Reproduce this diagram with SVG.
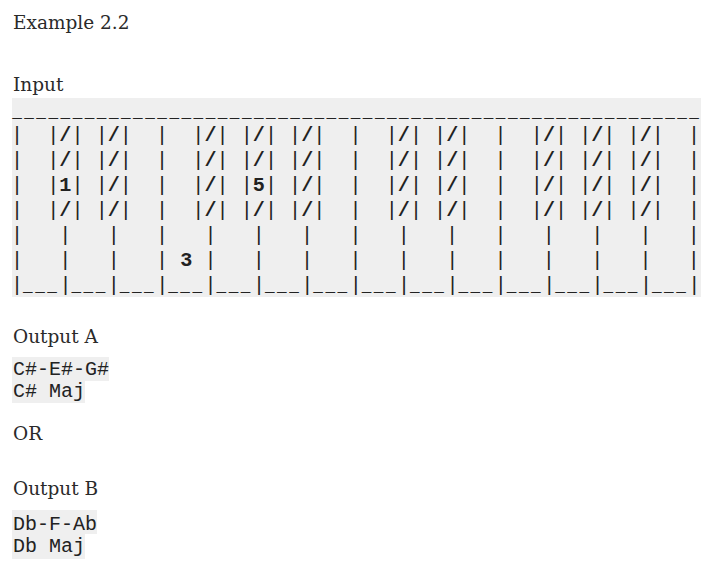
<svg xmlns="http://www.w3.org/2000/svg" width="717" height="571" viewBox="0 0 717 571">
<style>
.h{font-family:"DejaVu Serif","Liberation Serif",serif;font-size:18.5px;fill:#2a2a2a}
.m{font-family:"Liberation Mono","DejaVu Sans Mono",monospace;font-size:20.15px;fill:#222;white-space:pre}
.c{font-family:"Liberation Mono","DejaVu Sans Mono",monospace;font-size:20px;fill:#222;white-space:pre}
.u{font-size:16px;letter-spacing:2.49px;font-weight:bold}
.b{font-weight:bold}
.bg{fill:#efefef}
</style>
<rect width="717" height="571" fill="#ffffff"/>
<g id="headings">
<text class="h" x="13" y="28.5">Example 2.2</text>
<text class="h" x="13" y="91">Input</text>
<text class="h" x="13" y="343">Output A</text>
<text class="h" x="13" y="440">OR</text>
<text class="h" x="13" y="495">Output B</text>
</g>
<g id="piano">
<rect class="bg" x="12" y="98" width="689" height="199"/>
<text class="m" xml:space="preserve" x="12.2" y="117"><tspan class="u">_________________________________________________________</tspan></text>
<text class="m" xml:space="preserve" x="11" y="141">|  |<tspan class="b">/</tspan>| |<tspan class="b">/</tspan>|  |  |<tspan class="b">/</tspan>| |<tspan class="b">/</tspan>| |<tspan class="b">/</tspan>|  |  |<tspan class="b">/</tspan>| |<tspan class="b">/</tspan>|  |  |<tspan class="b">/</tspan>| |<tspan class="b">/</tspan>| |<tspan class="b">/</tspan>|  |</text>
<text class="m" xml:space="preserve" x="11" y="166">|  |<tspan class="b">/</tspan>| |<tspan class="b">/</tspan>|  |  |<tspan class="b">/</tspan>| |<tspan class="b">/</tspan>| |<tspan class="b">/</tspan>|  |  |<tspan class="b">/</tspan>| |<tspan class="b">/</tspan>|  |  |<tspan class="b">/</tspan>| |<tspan class="b">/</tspan>| |<tspan class="b">/</tspan>|  |</text>
<text class="m" xml:space="preserve" x="11" y="191">|  |<tspan class="b">1</tspan>| |<tspan class="b">/</tspan>|  |  |<tspan class="b">/</tspan>| |<tspan class="b">5</tspan>| |<tspan class="b">/</tspan>|  |  |<tspan class="b">/</tspan>| |<tspan class="b">/</tspan>|  |  |<tspan class="b">/</tspan>| |<tspan class="b">/</tspan>| |<tspan class="b">/</tspan>|  |</text>
<text class="m" xml:space="preserve" x="11" y="216">|  |<tspan class="b">/</tspan>| |<tspan class="b">/</tspan>|  |  |<tspan class="b">/</tspan>| |<tspan class="b">/</tspan>| |<tspan class="b">/</tspan>|  |  |<tspan class="b">/</tspan>| |<tspan class="b">/</tspan>|  |  |<tspan class="b">/</tspan>| |<tspan class="b">/</tspan>| |<tspan class="b">/</tspan>|  |</text>
<text class="m" xml:space="preserve" x="11" y="241">|   |   |   |   |   |   |   |   |   |   |   |   |   |   |</text>
<text class="m" xml:space="preserve" x="11" y="266">|   |   |   | <tspan class="b">3</tspan> |   |   |   |   |   |   |   |   |   |   |</text>
<text class="m" xml:space="preserve" x="11" y="291">|<tspan class="u">___</tspan>|<tspan class="u">___</tspan>|<tspan class="u">___</tspan>|<tspan class="u">___</tspan>|<tspan class="u">___</tspan>|<tspan class="u">___</tspan>|<tspan class="u">___</tspan>|<tspan class="u">___</tspan>|<tspan class="u">___</tspan>|<tspan class="u">___</tspan>|<tspan class="u">___</tspan>|<tspan class="u">___</tspan>|<tspan class="u">___</tspan>|<tspan class="u">___</tspan>|</text>
</g>
<g id="outputA">
<rect class="bg" x="12" y="357" width="97" height="24"/>
<rect class="bg" x="12" y="381" width="73" height="22"/>
<text class="c" xml:space="preserve" x="13" y="375">C#-E#-G#</text>
<text class="c" xml:space="preserve" x="13" y="397">C# Maj</text>
</g>
<g id="outputB">
<rect class="bg" x="12" y="510" width="85" height="24"/>
<rect class="bg" x="12" y="534" width="73" height="25"/>
<text class="c" xml:space="preserve" x="13" y="530">Db-F-Ab</text>
<text class="c" xml:space="preserve" x="13" y="552">Db Maj</text>
</g>
</svg>
